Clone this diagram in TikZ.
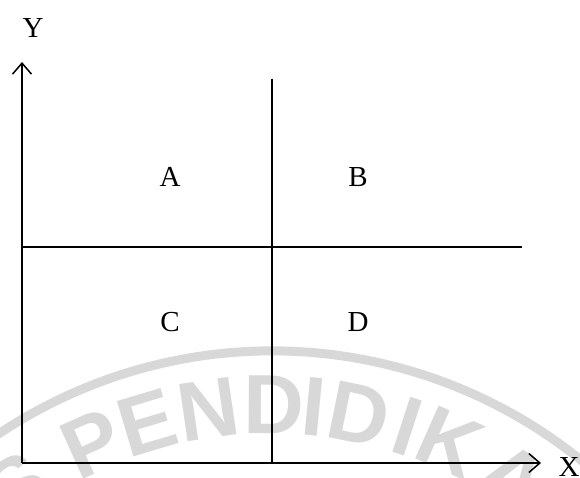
\documentclass[tikz,border=0pt]{standalone}
\usepackage{fontspec}
\setmainfont{Liberation Serif}
\newfontfamily\markfont{Liberation Sans Bold}
\usetikzlibrary{arrows.meta,calc}
\definecolor{markgray}{RGB}{216,216,216}
\tikzset{
  axis/.style={line width=1.5pt, -{Straight Barb[length=11pt, width=19pt, line width=1.5pt]}},
  divider/.style={line width=1.5pt},
  quadlabel/.style={font=\fontsize{29}{34}\selectfont, inner sep=0pt},
  marklet/.style={font=\markfont\fontsize{84}{90}\selectfont, text=markgray, inner sep=0pt}
}
\begin{document}
\begin{tikzpicture}[x=1pt, y=-1pt]
  \useasboundingbox (0,0) rectangle (580,478);
  % watermark
  \begin{scope}
    \clip (0,0) rectangle (580,478);
    \coordinate (mc) at (272,843);
    \draw[markgray, line width=9pt] (mc) ++(-160:492) arc[start angle=-160, end angle=-20, radius=492];
    \foreach \ch/\ang in {S/125.5, P/114.3, E/106.6, N/98.3, D/89.7, I/84.5, D/78.5, I/72, K/66, A/56.5}
      \node[marklet, rotate=\ang-90] at ($(mc)+(-\ang:438)$) {\ch};
  \end{scope}
  % axes and dividers
  \coordinate (O) at (22,463);
  \coordinate (Ytip) at (22,62);
  \coordinate (Xtip) at (541,463);
  \coordinate (vtop) at (272,79);
  \coordinate (vbot) at (272,463);
  \coordinate (hleft) at (22,247);
  \coordinate (hright) at (522,247);
  \draw[axis] (O) -- (Ytip);
  \draw[axis] (O) -- (Xtip);
  \draw[divider] (vtop) -- (vbot);
  \draw[divider] (hleft) -- (hright);
  \node[quadlabel] (ylab) at (33,28) {Y};
  \node[quadlabel] (xlab) at (569,467) {X};
  \node[quadlabel] (A) at (170,177) {A};
  \node[quadlabel] (B) at (358,177) {B};
  \node[quadlabel] (C) at (170,322) {C};
  \node[quadlabel] (D) at (358,322) {D};
\end{tikzpicture}
\end{document}
